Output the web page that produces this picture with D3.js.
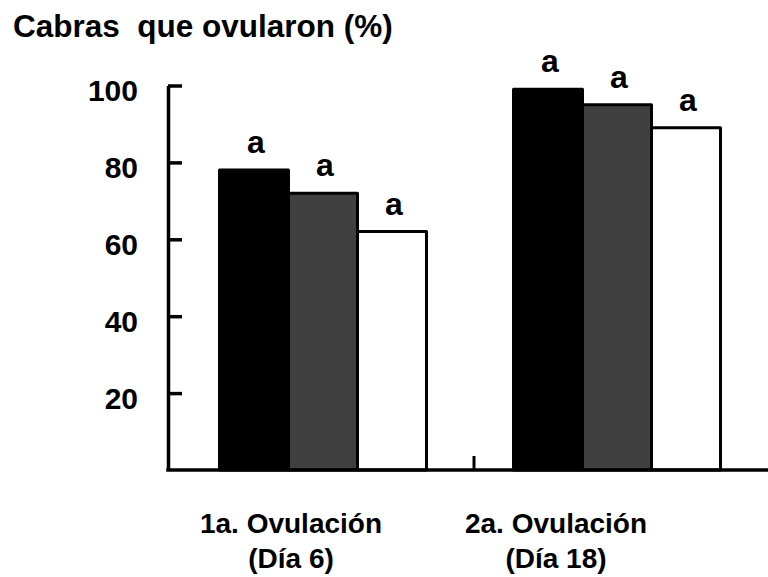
<!DOCTYPE html>
<html><head><meta charset="utf-8">
<script src="https://cdn.jsdelivr.net/npm/d3@7"></script>
<style>
body{margin:0;background:#fff}
text{font-family:"Liberation Sans",Arial,sans-serif;font-weight:bold;fill:#000}
</style>
</head><body>
<svg id="c" width="768" height="577"></svg>
<script>
// ---- data ----
const groupLine1 = ["1a. Ovulación", "2a. Ovulación"];
const groupLine2 = ["(Día 6)", "(Día 18)"];
const seriesKeys = ["t1", "t2", "t3"];
const seriesFill = ["#000000", "#404040", "#ffffff"];
const valuesT1 = [78, 99];
const valuesT2 = [72, 95];
const valuesT3 = [62, 89];
const lettersT1 = ["a", "a"];
const lettersT2 = ["a", "a"];
const lettersT3 = ["a", "a"];
const yTicks = [20, 40, 60, 80, 100];
const title = "Cabras  que ovularon (%)";

const values = [valuesT1, valuesT2, valuesT3];
const letters = [lettersT1, lettersT2, lettersT3];

// ---- layout ----
const W = 768, H = 577;
const axisX = 168;
const labelShift = [-32, -61];

const svg = d3.select("#c");

const y = d3.scaleLinear().domain([0, 100]).range([470, 85.5]);
const x0 = d3.scaleBand().domain(groupLine1).range([219.5, 720.5]).paddingInner(0.296).paddingOuter(0);
const x1 = d3.scaleBand().domain(seriesKeys).range([0, x0.bandwidth()]);

const rows = [];
groupLine1.forEach((g, gi) => {
  seriesKeys.forEach((s, si) => {
    rows.push({g, s, si, v: values[si][gi], l: letters[si][gi]});
  });
});

// bars
svg.append("g").selectAll("rect").data(rows).join("rect")
  .attr("x", d => x0(d.g) + x1(d.s))
  .attr("y", d => y(d.v))
  .attr("width", x1.bandwidth())
  .attr("height", d => y(0) - y(d.v))
  .attr("fill", d => seriesFill[d.si])
  .attr("stroke", "#000")
  .attr("stroke-width", 3)
  .attr("stroke-linejoin", "round");

// significance letters
svg.append("g").selectAll("text").data(rows).join("text")
  .attr("x", d => x0(d.g) + x1(d.s) + x1.bandwidth() / 2 + 2)
  .attr("y", d => y(d.v) - 17)
  .attr("text-anchor", "middle")
  .style("font-size", "32px")
  .text(d => d.l);

// y axis
const yAxis = d3.axisLeft(y).tickValues(yTicks).tickSizeInner(-14).tickSizeOuter(0).tickPadding(30);
const gy = svg.append("g").attr("transform", `translate(${axisX},0)`).call(yAxis);
gy.select(".domain").attr("stroke", "#000").attr("stroke-width", 3.5);
gy.selectAll(".tick line").attr("stroke", "#000").attr("stroke-width", 3.5);
gy.selectAll(".tick text")
  .attr("dy", "0.5em")
  .style("font-size", "30px")
  .style("font-family", "'Liberation Sans',Arial,sans-serif")
  .style("font-weight", "bold")
  .attr("fill", "#000");

// x axis line
svg.append("line")
  .attr("x1", axisX - 1.75).attr("x2", W)
  .attr("y1", y(0)).attr("y2", y(0))
  .attr("stroke", "#000").attr("stroke-width", 3.5);

// middle tick between groups
const midX = x0(groupLine1[1]) - x0.step() * x0.paddingInner() / 2 + 4;
svg.append("line")
  .attr("x1", midX).attr("x2", midX)
  .attr("y1", y(0)).attr("y2", y(0) - 14)
  .attr("stroke", "#000").attr("stroke-width", 3);

// category labels
const cat = svg.append("g").selectAll("g").data(groupLine1).join("g")
  .attr("transform", (g, i) => `translate(${x0(g) + x0.bandwidth() / 2 + labelShift[i]},0)`);
cat.append("text").attr("y", 533).attr("text-anchor", "middle").style("font-size", "28px").text(g => g);
cat.append("text").attr("y", 568).attr("text-anchor", "middle").style("font-size", "28px").text((g, i) => groupLine2[i]);

// title
svg.append("text").attr("x", 13).attr("y", 37).style("font-size", "31.5px").style("white-space", "pre").attr("xml:space", "preserve").text(title);
</script>
</body></html>
